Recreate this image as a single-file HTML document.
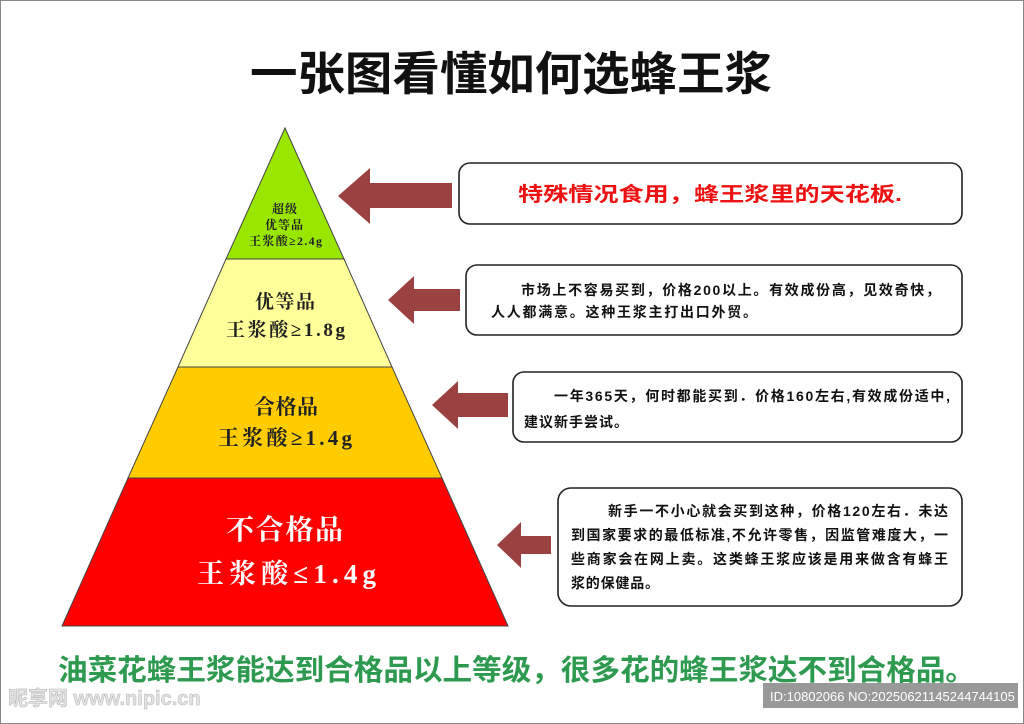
<!DOCTYPE html>
<html><head><meta charset="utf-8"><style>
body{margin:0;background:#fff}
svg{display:block}
.s{font-family:"Liberation Serif","Noto Serif CJK SC",serif;font-weight:bold}
.h{font-family:"Liberation Sans","Noto Sans CJK SC",sans-serif;font-weight:bold}
</style></head><body>
<svg width="1024" height="724" viewBox="0 0 1024 724" xmlns="http://www.w3.org/2000/svg">
<rect x="0.5" y="0.5" width="1023" height="723" fill="#fff" stroke="#888"/>
<text class="h" x="250" y="90" font-size="46" textLength="522" lengthAdjust="spacingAndGlyphs" fill="#111">一张图看懂如何选蜂王浆</text>
<polygon points="285,128 226,259 344,259" fill="#99e600" stroke="#444" stroke-width="1"/>
<polygon points="226,259 344,259 392,367 178,367" fill="#ffff99" stroke="#444" stroke-width="1"/>
<polygon points="178,367 392,367 442,478 128,478" fill="#ffcc00" stroke="#444" stroke-width="1"/>
<polygon points="128,478 442,478 508,626 62,626" fill="#ff0000" stroke="#444" stroke-width="1"/>
<g class="s" fill="#222" lengthAdjust="spacingAndGlyphs">
<text x="272" y="213" font-size="12" textLength="25">超级</text>
<text x="265" y="229" font-size="12" textLength="38">优等品</text>
<text x="249" y="245" font-size="12" textLength="73">王浆酸≥2.4g</text>
<text x="255" y="308" font-size="19" textLength="60">优等品</text>
<text x="226" y="336" font-size="19" textLength="119">王浆酸≥1.8g</text>
<text x="254" y="414" font-size="21" textLength="64">合格品</text>
<text x="218" y="445" font-size="21" textLength="134">王浆酸≥1.4g</text>
<text x="226" y="539" font-size="28" fill="#fff" textLength="117">不合格品</text>
<text x="197" y="583" font-size="27" fill="#fff" textLength="179">王浆酸≤1.4g</text>
</g>
<g fill="#9b4141">
<polygon points="338,196 370,168 370,183 452,183 452,208 370,208 370,224"/>
<polygon points="388,300 414,276 414,289 460,289 460,311 414,311 414,324"/>
<polygon points="432,405 458,381 458,393 508,393 508,417 458,417 458,429"/>
<polygon points="497,545 521,522 521,536 551,536 551,554 521,554 521,568"/>
</g>
<g fill="#fff" stroke="#222" stroke-width="1.6">
<rect x="459" y="163" width="503" height="61" rx="11"/>
<rect x="466" y="265" width="496" height="70" rx="11"/>
<rect x="513" y="372" width="449" height="70" rx="11"/>
<rect x="558" y="488" width="404" height="118" rx="13"/>
</g>
<text class="h" x="518" y="201" font-size="20" textLength="384" lengthAdjust="spacingAndGlyphs" fill="#ee1111">特殊情况食用，蜂王浆里的天花板.</text>
<g class="h" font-size="14" fill="#111" lengthAdjust="spacingAndGlyphs">
<text x="521" y="295" textLength="419">市场上不容易买到，价格200以上。有效成份高，见效奇快，</text>
<text x="491" y="317" textLength="266">人人都满意。这种王浆主打出口外贸。</text>
<text x="554" y="401" textLength="396">一年365天，何时都能买到．价格160左右,有效成份适中,</text>
<text x="524" y="427" textLength="104">建议新手尝试。</text>
<text x="608" y="516" textLength="340">新手一不小心就会买到这种，价格120左右．未达</text>
<text x="571" y="540" textLength="377">到国家要求的最低标准,不允许零售，因监管难度大，一</text>
<text x="571" y="564" textLength="377">些商家会在网上卖。这类蜂王浆应该是用来做含有蜂王</text>
<text x="571" y="588" textLength="88">浆的保健品。</text>
</g>
<text class="h" x="58" y="680" font-size="29" textLength="917" lengthAdjust="spacingAndGlyphs" fill="#2e9a50">油菜花蜂王浆能达到合格品以上等级，很多花的蜂王浆达不到合格品。</text>
<text class="h" x="8" y="705" font-size="20" fill="#e4e4e4" stroke="#bbb" stroke-width="0.6">昵享网 www.nipic.cn</text>
<rect x="763" y="683" width="255" height="25" fill="#999"/>
<text x="770" y="701" font-size="13" fill="#fff" font-family="Liberation Sans, sans-serif">ID:10802066 NO:20250621145244744105</text>
</svg>
</body></html>
